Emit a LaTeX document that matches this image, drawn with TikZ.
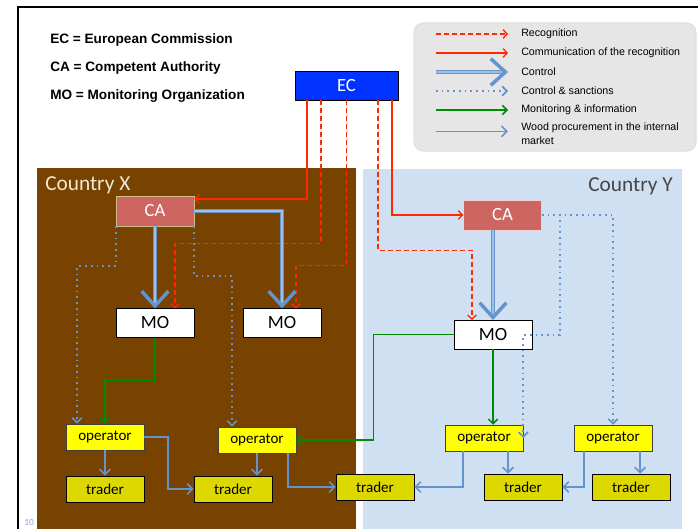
\documentclass[tikz,border=0pt]{standalone}
\usepackage{fontspec}
\setmainfont{Liberation Sans}
\newfontfamily\carlito{Carlito}
\usetikzlibrary{arrows.meta}

\definecolor{countryx}{RGB}{120,66,0}
\definecolor{countryy}{RGB}{208,224,243}
\definecolor{xlabel}{RGB}{240,232,210}
\definecolor{ylabel}{RGB}{70,70,70}
\definecolor{redline}{RGB}{255,40,0}
\definecolor{ctrlblue}{RGB}{100,148,205}
\definecolor{monigreen}{RGB}{0,140,0}
\definecolor{cared}{RGB}{205,102,96}
\definecolor{cabord}{RGB}{210,190,140}
\definecolor{ecblue}{RGB}{0,51,255}
\definecolor{opyellow}{RGB}{255,255,0}
\definecolor{tryellow}{RGB}{221,216,0}
\definecolor{legendgray}{RGB}{230,230,230}
\definecolor{numblue}{RGB}{140,165,207}

\tikzset{
  box/.style={draw, inner sep=0pt, minimum width=58.5pt},
  ecbox/.style={box, fill=ecblue, text=white, minimum width=77.25pt, minimum height=21.75pt, font=\carlito\fontsize{14}{16}\selectfont},
  cabox/.style={box, fill=cared, text=white, minimum height=22.5pt, font=\carlito\fontsize{14}{16}\selectfont},
  mobox/.style={box, fill=white, minimum height=21.4pt, font=\carlito\fontsize{14}{16}\selectfont},
  opbox/.style={box, fill=opyellow, draw=black!75, minimum height=19.5pt, font=\carlito\fontsize{11.3}{13}\selectfont},
  trbox/.style={box, fill=tryellow, minimum height=19.5pt, font=\carlito\fontsize{11.3}{13}\selectfont},
  deftext/.style={anchor=west, inner sep=0pt, font=\bfseries\fontsize{10.2}{12}\selectfont},
  legtext/.style={anchor=west, inner sep=0pt, align=left, font=\fontsize{8}{10.5}\selectfont},
  recogline/.style={redline, line width=1pt, dash pattern=on 3.5pt off 2.5pt, -{Straight Barb[length=3pt,width=6.5pt]}},
  commline/.style={redline, line width=1pt, -{Straight Barb[length=3pt,width=6.5pt]}},
  ctrlline/.style={draw=ctrlblue, line width=1.2pt, double=ctrlblue!60!white, double distance=1.2pt, -{Straight Barb[length=11pt,width=20pt,line width=2.6pt]}},
  sancline/.style={ctrlblue, line width=1.3pt, dash pattern=on 1.3pt off 3pt, -{Straight Barb[length=3.5pt,width=7pt]}},
  monline/.style={monigreen, line width=1.1pt, -{Straight Barb[length=3.5pt,width=7pt]}},
  woodline/.style={ctrlblue, line width=1.2pt, -{Straight Barb[length=4pt,width=8pt]}},
}

\begin{document}
\begin{tikzpicture}[x=0.75pt, y=-0.75pt]
\useasboundingbox (0,0) rectangle (698,528);
\clip (0,0) rectangle (698,528);
% Slide frame
\draw[line width=1.5pt] (18,540) -- (18,7) -- (710,7);
% Countries
\fill[countryx] (37,168) rectangle (356,540);
\fill[countryy] (363,169) rectangle (682,540);
\node[anchor=west, inner sep=0pt, text=xlabel, font=\carlito\fontsize{16}{18}\selectfont] (cntX) at (45,185) {Country X};
\node[anchor=east, inner sep=0pt, text=ylabel, font=\carlito\fontsize{16}{18}\selectfont] (cntY) at (673,186) {Country Y};
% Abbreviations
\node[deftext] (defEC) at (50,40) {EC = European Commission};
\node[deftext] (defCA) at (50,68) {CA = Competent Authority};
\node[deftext] (defMO) at (50,96) {MO = Monitoring Organization};
% Legend
\draw[rounded corners=7pt, fill=legendgray, draw=black!12, line width=0.8pt] (414,23) rectangle (696,151);
\node[legtext] (lgRec) at (521,34) {Recognition};
\node[legtext] (lgComm) at (521,53) {Communication of the recognition};
\node[legtext] (lgCtrl) at (521,72) {Control};
\node[legtext] (lgSanc) at (521,91) {Control \& sanctions};
\node[legtext] (lgMon) at (521,110) {Monitoring \& information};
\node[legtext] (lgWood) at (521,134) {Wood procurement in the internal\\market};
\draw[recogline] ([xshift=-63.75pt]lgRec.west) -- ([xshift=-9.75pt]lgRec.west);
\draw[commline] ([xshift=-63.75pt]lgComm.west) -- ([xshift=-9.75pt]lgComm.west);
\draw[ctrlline] ([xshift=-63.75pt]lgCtrl.west) -- ([xshift=-9.75pt]lgCtrl.west);
\draw[sancline] ([xshift=-63.75pt]lgSanc.west) -- ([xshift=-9.75pt]lgSanc.west);
\draw[monline] ([xshift=-63.75pt]lgMon.west) -- ([xshift=-9.75pt]lgMon.west);
\draw[woodline] ([xshift=-63.75pt,yshift=2pt]lgWood.west) -- ([xshift=-9.75pt,yshift=2pt]lgWood.west);
% Boxes
\node[ecbox] (ec) at (346.5,85.5) {EC};
\node[cabox, draw=cabord] (caX) at (155,211) {CA};
\node[cabox, draw=white!70!cared] (caY) at (502.5,215) {CA};
\node[mobox] (moXa) at (155,323) {MO};
\node[mobox] (moXb) at (282,323) {MO};
\node[mobox] (moY) at (493,334.5) {MO};
\node[opbox] (op1) at (105,437) {operator};
\node[opbox] (op2) at (257,440) {operator};
\node[opbox] (op3) at (484,438) {operator};
\node[opbox] (op4) at (613,438) {operator};
\node[trbox] (tr1) at (105,489) {trader};
\node[trbox] (tr2) at (233,489) {trader};
\node[trbox] (tr3) at (375,487) {trader};
\node[trbox] (tr4) at (523,487) {trader};
\node[trbox] (tr5) at (631,487) {trader};
% Communication of the recognition
\draw[commline] ([xshift=-29.6pt]ec.south) |- ([yshift=9pt]caX.east);
\draw[commline] ([xshift=34.1pt]ec.south) |- (caY.west);
% Recognition
\draw[recogline] ([xshift=-19.1pt]ec.south) -- ++(0,143) -| ([xshift=15pt]moXa.north);
\draw[recogline] (ec.south) -- ++(0,165) -| ([xshift=10.5pt]moXb.north);
\draw[recogline] ([xshift=23.6pt]ec.south) -- ++(0,150) -| ([xshift=-15.75pt]moY.north);
% Control
\draw[ctrlline] (caX.south) -- (moXa.north);
\draw[ctrlline] (caX.east) -| (moXb.north);
\draw[ctrlline] (caY.south -| moY.north) -- (moY.north);
% Control & sanctions
\draw[sancline] (caX.south west) -- ++(0,40) -| ([xshift=-21pt]op1.north);
\draw[sancline] (caX.south east) -- ++(0,50) -| ([xshift=-18.75pt]op2.north);
\draw[sancline] (caY.east) -| (op4.north);
\draw[sancline] (caY.east) -- ++(18,0) -- ++(0,120) -| (op3.east);
% Monitoring & information
\draw[monline] (moXa.south) -- ++(0,43) -| (op1.north);
\draw[monline] (moY.west) -- ++(-80,0) |- (op2.east);
\draw[monline] (moY.south) -- (moY.south |- op3.north);
% Wood procurement
\draw[woodline] (op1.south) -- (tr1.north);
\draw[woodline] (op1.east) -- ++(24,0) |- (tr2.west);
\draw[woodline] (op2.south) -- (op2.south |- tr2.north);
\draw[woodline] ([xshift=23.25pt]op2.south) |- (tr3.west);
\draw[woodline] ([xshift=-15.75pt]op3.south) |- (tr3.east);
\draw[woodline] ([xshift=18pt]op3.south) -- ([xshift=18pt]op3.south |- tr4.north);
\draw[woodline] ([xshift=-21.75pt]op4.south) |- (tr4.east);
\draw[woodline] ([xshift=20.25pt]op4.south) -- ([xshift=20.25pt]op4.south |- tr5.north);
% Slide number
\node[inner sep=0pt, text=numblue, font=\carlito\fontsize{7}{8}\selectfont] (pgnum) at (29,522) {10};
\end{tikzpicture}
\end{document}
